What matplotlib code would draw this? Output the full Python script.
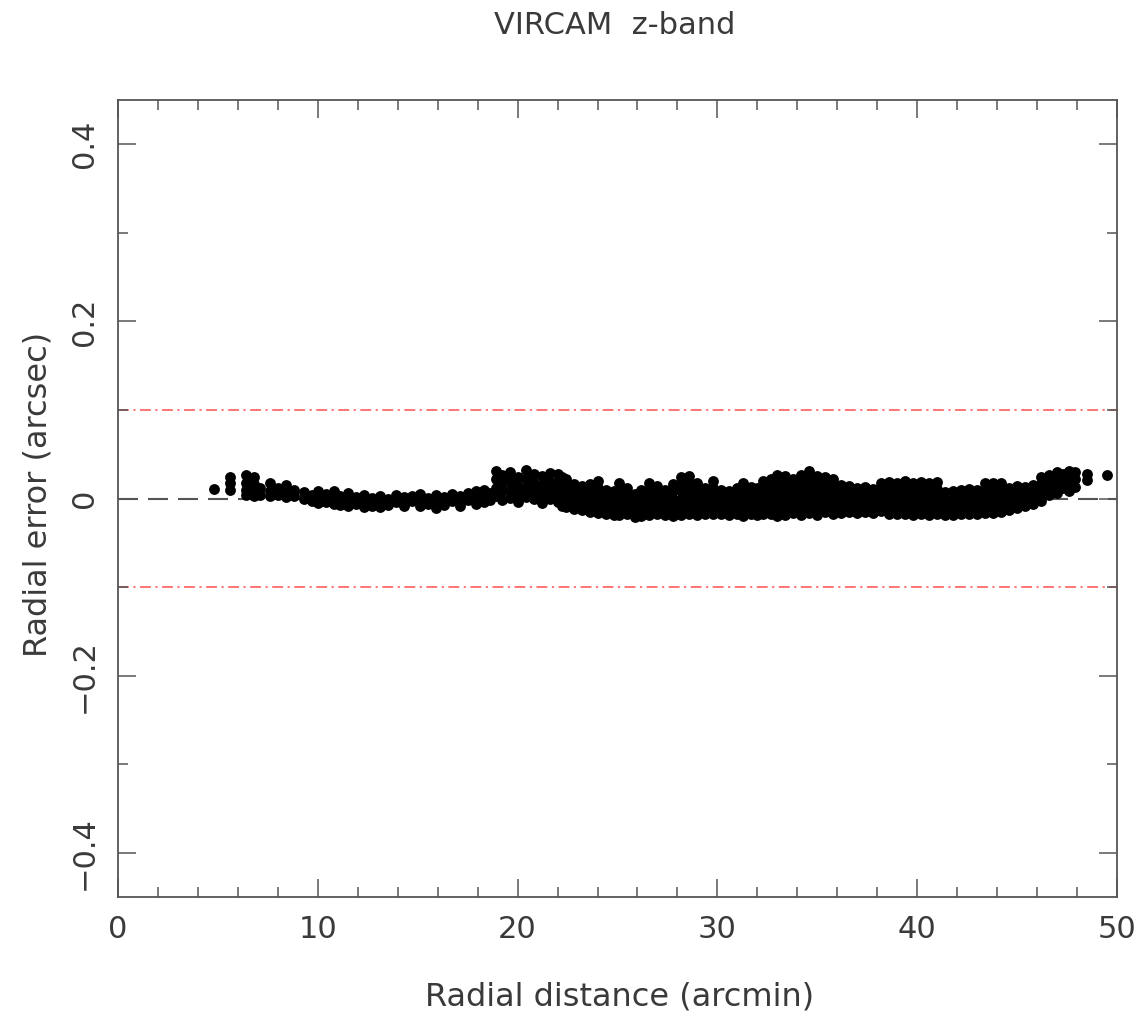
import numpy as np
import matplotlib
matplotlib.use('Agg')
import matplotlib.pyplot as plt
from matplotlib.ticker import MultipleLocator

# Radial distance columns (arcmin) and the radial errors (arcsec) read in each column
dist_inner = [4.8, 5.6, 6.4, 6.8, 7.1, 7.6, 8.0, 8.4, 8.8]
err_inner = [
    [0.011],
    [0.024, 0.017, 0.010],
    [0.026, 0.018, 0.010, 0.004],
    [0.024, 0.016, 0.008, 0.003],
    [0.012, 0.004],
    [0.017, 0.009, 0.003],
    [0.012, 0.004],
    [0.015, 0.008, 0.002],
    [0.010, 0.003],
]

dist_flat = [9.3, 9.7, 10.0, 10.4, 10.8, 11.1, 11.5, 11.9, 12.3, 12.7, 13.1, 13.5,
             13.9, 14.3, 14.7, 15.1, 15.5, 15.9, 16.3, 16.7, 17.1, 17.5, 17.9, 18.3, 18.6]
err_flat = [
    [0.007, -0.001], [0.004, -0.003], [0.009, 0.001, -0.005], [0.005, -0.004],
    [0.008, 0.000, -0.006], [0.003, -0.007], [0.006, -0.002, -0.009], [0.002, -0.006],
    [0.004, -0.003, -0.010], [0.001, -0.008], [0.003, -0.005, -0.010], [0.000, -0.007],
    [0.004, -0.004], [0.002, -0.006, -0.009], [0.003, -0.003], [0.005, -0.002, -0.008],
    [0.001, -0.006], [0.004, -0.004, -0.011], [0.002, -0.007], [0.005, -0.003],
    [0.003, -0.005, -0.009], [0.006, -0.002], [0.008, 0.000, -0.006],
    [0.010, 0.002, -0.004], [0.006, -0.002],
]

dist_jump = [18.9, 19.2, 19.6, 20.0, 20.4, 20.8, 21.2, 21.6]
err_jump = [
    [0.031, 0.022, 0.012, 0.003],
    [0.026, 0.017, 0.008, -0.002],
    [0.030, 0.020, 0.010, 0.001],
    [0.024, 0.014, 0.005, -0.004],
    [0.032, 0.022, 0.012, 0.002],
    [0.028, 0.018, 0.009, -0.001],
    [0.025, 0.015, 0.005, -0.005],
    [0.029, 0.019, 0.010, 0.000],
]

dist_mid = [22.0, 22.2, 22.4, 22.8, 23.2, 23.6, 24.0, 24.4, 24.8, 25.1, 25.5, 25.9,
            26.2, 26.6, 27.0, 27.4, 27.8, 28.2, 28.6, 29.0, 29.4, 29.8, 30.2]
err_mid = [
    [0.028, 0.020, 0.012, 0.004, -0.004],
    [0.024, 0.016, 0.007, -0.001, -0.008],
    [0.022, 0.013, 0.005, -0.003, -0.010],
    [0.016, 0.009, 0.001, -0.006, -0.012],
    [0.014, 0.006, -0.002, -0.009, -0.013],
    [0.016, 0.008, 0.000, -0.007, -0.015],
    [0.020, 0.012, 0.004, -0.004, -0.011, -0.016],
    [0.010, 0.002, -0.006, -0.013, -0.018],
    [0.008, 0.000, -0.008, -0.015, -0.019],
    [0.018, 0.010, 0.002, -0.005, -0.012, -0.019],
    [0.012, 0.004, -0.004, -0.011, -0.018],
    [0.005, -0.003, -0.010, -0.017, -0.021],
    [0.010, 0.002, -0.006, -0.013, -0.020],
    [0.018, 0.010, 0.002, -0.006, -0.013, -0.019],
    [0.014, 0.006, -0.002, -0.010, -0.017],
    [0.010, 0.002, -0.005, -0.012, -0.019],
    [0.016, 0.008, 0.000, -0.008, -0.015, -0.020],
    [0.024, 0.016, 0.008, 0.000, -0.007, -0.014, -0.019],
    [0.025, 0.017, 0.009, 0.001, -0.006, -0.013, -0.018],
    [0.018, 0.010, 0.002, -0.006, -0.013, -0.019],
    [0.012, 0.004, -0.004, -0.011, -0.018],
    [0.020, 0.012, 0.004, -0.004, -0.011, -0.017],
    [0.010, 0.002, -0.005, -0.012, -0.018],
]

dist_wide = [30.6, 31.0, 31.3, 31.7, 32.0, 32.3, 32.7, 33.0, 33.4, 33.8, 34.2, 34.6,
             35.0, 35.4, 35.8, 36.2, 36.6, 37.0, 37.4, 37.8, 38.2]
err_wide = [
    [0.009, 0.001, -0.006, -0.013, -0.019],
    [0.012, 0.004, -0.004, -0.011, -0.018],
    [0.017, 0.009, 0.001, -0.007, -0.014, -0.020],
    [0.013, 0.005, -0.003, -0.010, -0.017],
    [0.012, 0.004, -0.004, -0.012, -0.019],
    [0.020, 0.012, 0.004, -0.004, -0.011, -0.018],
    [0.022, 0.014, 0.006, -0.002, -0.010, -0.017],
    [0.026, 0.018, 0.010, 0.002, -0.006, -0.013, -0.020],
    [0.025, 0.017, 0.009, 0.001, -0.007, -0.014, -0.019],
    [0.022, 0.014, 0.006, -0.002, -0.009, -0.016],
    [0.026, 0.018, 0.010, 0.002, -0.006, -0.013, -0.019],
    [0.031, 0.023, 0.015, 0.007, -0.001, -0.009, -0.016],
    [0.025, 0.017, 0.009, 0.001, -0.007, -0.014, -0.019],
    [0.024, 0.016, 0.008, 0.000, -0.008, -0.015],
    [0.022, 0.014, 0.006, -0.002, -0.010, -0.017],
    [0.015, 0.007, -0.001, -0.009, -0.016],
    [0.014, 0.006, -0.002, -0.009, -0.015],
    [0.012, 0.004, -0.004, -0.011, -0.016],
    [0.013, 0.005, -0.003, -0.010, -0.015],
    [0.011, 0.003, -0.005, -0.012, -0.016],
    [0.017, 0.009, 0.001, -0.007, -0.014],
]

dist_outer = [38.6, 39.0, 39.4, 39.8, 40.2, 40.6, 41.0, 41.4, 41.8, 42.2, 42.6, 43.0,
              43.4, 43.8, 44.2, 44.6, 45.0, 45.4, 45.8, 46.2]
err_outer = [
    [0.019, 0.011, 0.003, -0.005, -0.012, -0.017],
    [0.018, 0.010, 0.002, -0.006, -0.013, -0.018],
    [0.020, 0.012, 0.004, -0.004, -0.011, -0.018],
    [0.017, 0.009, 0.001, -0.007, -0.014, -0.019],
    [0.019, 0.011, 0.003, -0.005, -0.012, -0.018],
    [0.018, 0.010, 0.002, -0.006, -0.013, -0.019],
    [0.019, 0.011, 0.003, -0.005, -0.012, -0.018],
    [0.007, -0.001, -0.009, -0.015, -0.019],
    [0.008, 0.000, -0.008, -0.014, -0.019],
    [0.010, 0.002, -0.006, -0.013, -0.018],
    [0.011, 0.003, -0.005, -0.012, -0.017],
    [0.010, 0.002, -0.006, -0.012, -0.017],
    [0.018, 0.010, 0.002, -0.005, -0.011, -0.016],
    [0.017, 0.009, 0.001, -0.006, -0.012, -0.016],
    [0.018, 0.010, 0.002, -0.005, -0.011, -0.015],
    [0.012, 0.004, -0.003, -0.009, -0.013],
    [0.014, 0.006, -0.001, -0.007, -0.011],
    [0.013, 0.005, -0.002, -0.008],
    [0.015, 0.007, 0.000, -0.006],
    [0.024, 0.016, 0.008, 0.001, -0.003],
]

dist_edge = [46.6, 47.0, 47.3, 47.6, 47.9, 48.5, 49.5]
err_edge = [
    [0.027, 0.019, 0.011, 0.004],
    [0.030, 0.022, 0.014, 0.006],
    [0.028, 0.020, 0.012],
    [0.031, 0.023, 0.015, 0.009],
    [0.030, 0.022, 0.013],
    [0.028, 0.021],
    [0.027],
]

# Tolerance lines and axis ticks
tolerance = 0.1
x_ticks = [0, 10, 20, 30, 40, 50]
y_ticks = [-0.4, -0.2, 0.0, 0.2, 0.4]
y_tick_labels = ['\u22120.4', '\u22120.2', '0', '0.2', '0.4']


# Expand the column lists into flat x / y arrays
def expand_columns(dists, errs):
    xs, ys = [], []
    for d, col in zip(dists, errs):
        xs.extend([d] * len(col))
        ys.extend(col)
    return xs, ys


def main():
    groups = [(dist_inner, err_inner), (dist_flat, err_flat), (dist_jump, err_jump),
              (dist_mid, err_mid), (dist_wide, err_wide), (dist_outer, err_outer),
              (dist_edge, err_edge)]
    xs, ys = [], []
    for dists, errs in groups:
        gx, gy = expand_columns(dists, errs)
        xs.extend(gx)
        ys.extend(gy)

    text_col = '#3a3a3a'
    axis_col = '#555555'

    fig = plt.figure(figsize=(11.42, 10.17), dpi=100)
    ax = fig.add_axes([118 / 1142, 1 - 897 / 1017, 999 / 1142, 797 / 1017])

    # Zero line and +/- tolerance lines
    zero, = ax.plot([0, 50], [0, 0], color='#555555', lw=1.5, zorder=1)
    zero.set_dashes((9.6, 4.8))
    for level in (tolerance, -tolerance):
        tl, = ax.plot([0, 50], [level, level], color='#ff6a6a', lw=1.3, zorder=1)
        tl.set_dashes((6, 2.5, 1.2, 2.5))

    ax.plot(xs, ys, 'o', color='black', ms=7.8, mew=0, zorder=3)

    ax.set_xlim(0, 50)
    ax.set_ylim(-0.45, 0.45)
    ax.set_xticks(x_ticks)
    ax.set_yticks(y_ticks, y_tick_labels)
    ax.xaxis.set_minor_locator(MultipleLocator(2))
    ax.yaxis.set_minor_locator(MultipleLocator(0.1))

    ax.tick_params(which='both', direction='in', top=True, right=True,
                   color=axis_col, labelcolor=text_col, labelsize=22, width=1.1)
    ax.tick_params(which='major', length=13)
    ax.tick_params(which='minor', length=7)
    ax.tick_params(axis='x', pad=13)
    ax.tick_params(axis='y', pad=14, labelrotation=90)
    for lab in ax.get_yticklabels():
        lab.set_va('center')

    for sp in ax.spines.values():
        sp.set_color(axis_col)
        sp.set_linewidth(1.3)

    fig.text(615 / 1142, 1 - 25 / 1017, 'VIRCAM  z-band', ha='center', va='center',
             fontsize=22, color=text_col)
    fig.text(620 / 1142, 1 - 997 / 1017, 'Radial distance (arcmin)', ha='center',
             va='center', fontsize=23, color=text_col)
    fig.text(38 / 1142, 1 - 494 / 1017, 'Radial error (arcsec)', ha='center',
             va='center', rotation=90, fontsize=23, color=text_col)

    fig.savefig('out.png', dpi=100)


if __name__ == "__main__":
    main()
